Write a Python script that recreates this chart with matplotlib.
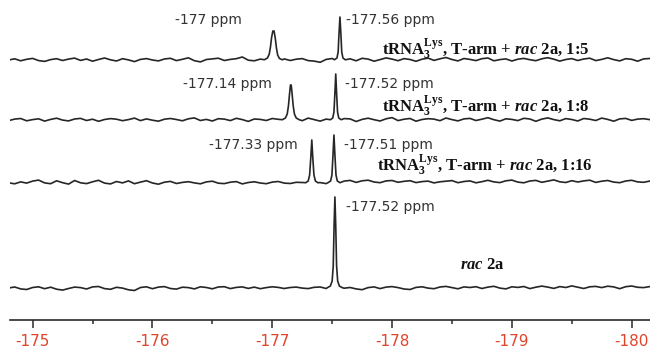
"""19F NMR spectra stacked plot (tRNA T-arm titration with rac 2a)."""

import matplotlib
matplotlib.use('Agg')
import matplotlib.pyplot as plt
import numpy as np

plt.rcParams['axes.unicode_minus'] = False
plt.rcParams['mathtext.fontset'] = 'custom'
plt.rcParams['mathtext.rm'] = 'Liberation Serif:bold'
plt.rcParams['mathtext.bf'] = 'Liberation Serif:bold'
plt.rcParams['mathtext.it'] = 'Liberation Serif:italic:bold'

# Eje de desplazamiento quimico (ppm) para la linea base
ppm_grid = -174.80 - 0.05 * np.arange(108)

# Ruido de linea base (unidades de intensidad arbitrarias)
noise_15 = [
    0.0, 1.2, -0.8, 0.7, 1.6, -0.6, -1.4, 0.4, 1.3, -0.5, 0.9, 1.9,
    -0.4, 1.0, -1.2, 0.5, 2.0, 0.2, -1.0, 1.3, 0.1, -1.6, 0.6, 1.4,
    0.0, -0.9, 1.0, 1.7, -0.6, 0.7, 2.2, -0.7, -1.9, 0.5, 1.1, 1.8,
    -0.5, 0.6, 1.3, 3.0, -0.2, -0.8, 0.9, 0.0, -0.7, 0.5, 1.1, -0.5,
    0.8, 1.4, -0.6, -1.1, -2.3, 0.6, 1.5, -0.3, 0.5, 1.2, -0.8, 1.7,
    0.9, -1.2, 0.4, 2.1, 0.9, -0.7, 1.4, 0.5, -1.3, 0.8, 1.9, -0.4,
    1.2, 2.5, 0.5, -0.9, 1.5, 0.6, -0.6, 1.3, 2.0, -0.8, 0.4, 1.1,
    -1.0, 0.8, 1.6, 0.3, -0.7, 1.2, 2.3, 0.8, -1.1, 0.5, 1.4, -0.5,
    1.0, 1.8, -0.6, 0.6, 2.2, 0.4, -0.9, 1.3, 0.7, -1.2, 1.1, 1.5,
]
noise_18 = [
    -0.6, 0.9, 1.5, -0.8, 0.4, 1.2, -1.1, 0.6, 1.8, -0.1, -0.9, 1.0,
    1.6, -0.5, 0.8, -1.3, 0.5, 1.4, 0.8, -0.7, 0.4, 1.9, -0.6, 1.1,
    -0.2, -1.2, 0.8, 1.5, 0.5, -0.8, 1.2, 2.1, -0.5, 0.6, -1.0, 1.3,
    0.9, -0.6, 1.7, 0.4, -1.4, 1.0, 0.6, -0.5, 1.5, 0.7, -0.9, 0.5,
    1.2, -0.7, 1.9, 0.4, -1.1, 0.9, 0.5, -0.8, 1.4, 1.1, -1.5, 0.6,
    1.8, 0.3, -1.0, 1.2, 2.4, -0.6, 0.8, 1.5, -1.2, 0.5, 1.3, 0.9,
    -0.7, 2.0, 0.4, -0.9, 1.1, 1.6, -0.5, 0.8, 2.3, 0.3, -1.1, 1.2,
    0.6, -0.6, 1.7, 1.0, -1.3, 0.9, 2.1, 0.4, -0.8, 1.4, 0.5, -1.0,
    1.5, 0.8, -0.5, 1.9, 0.6, -1.2, 1.1, 1.6, -0.4, 0.9, 1.3, 0.4,
]
noise_116 = [
    0.2, -0.8, 1.1, -0.1, 1.9, 2.9, 0.1, -0.7, 2.2, 0.3, -1.1, 2.5,
    0.2, -0.6, 1.2, 2.7, -0.1, -0.9, 1.5, 0.1, 2.1, -0.7, 0.9, 2.3,
    0.0, -1.2, 0.8, 1.6, -0.5, 0.6, 1.3, 0.1, -0.8, 1.1, 1.8, -0.2,
    -0.6, 0.8, 1.4, -0.9, 0.5, 1.2, 0.0, -0.7, 0.9, 1.5, -0.1, -0.5,
    0.7, 0.5, -0.9, 1.1, 0.4, -0.6, 1.3, 0.6, 1.9, 2.6, 0.6, 2.2,
    2.8, 1.0, 0.3, 2.1, 2.5, 0.7, 1.7, 2.3, 0.4, 1.4, 1.9, 0.1,
    1.2, 1.8, 2.4, 0.3, 1.5, 2.1, 0.2, 1.3, 2.7, 1.1, 0.4, 2.2,
    2.9, 0.9, 0.2, 2.0, 2.6, 0.7, 1.9, 3.1, 1.2, 0.5, 2.3, 1.0,
    2.1, 2.8, 0.6, 1.8, 2.5, 0.9, 0.3, 2.0, 2.7, 1.1, 0.7, 1.9,
]
noise_rac = [
    0.0, 1.0, -0.9, -1.5, 0.5, 1.2, -0.7, 0.8, -1.2, -2.1, -0.5, 0.9,
    0.4, -1.0, 1.1, 1.5, -0.6, -1.3, 0.7, -0.1, -1.8, -2.5, 0.5, 1.2,
    -0.7, 0.9, 1.4, -0.5, -1.1, 0.8, 0.4, -0.9, 1.2, 0.5, -0.8, 1.0,
    1.3, -0.6, 0.6, 1.1, -0.4, 0.9, -0.7, 0.4, 1.2, 0.6, -0.5, 0.5,
    0.9, -0.1, -0.6, 0.7, 1.0, -0.5, 0.3, 0.8, -0.2, 0.5, -0.9, -1.7,
    0.4, 1.1, -0.6, 0.9, 1.4, 0.4, -1.0, -1.5, 0.6, 1.2, -0.1, -0.7,
    1.0, 1.6, 0.4, -0.8, 1.1, 0.5, 1.3, -0.5, 0.9, 1.7, -0.1, -0.9,
    1.2, 0.6, 1.5, -0.6, 0.8, 1.9, 0.9, -0.4, 1.4, 0.5, 2.1, 0.8,
    -0.5, 1.2, 1.6, 0.4, 1.8, 1.1, -0.7, 1.3, 2.0, 0.7, 0.4, 1.4,
]

# Picos: (ppm, intensidad)
peaks_15 = [
    ([-176.935, -176.96, -176.975, -176.985, -176.995, -177.005, -177.015,
      -177.025, -177.035, -177.045, -177.06, -177.085],
     [0.3, 2, 6, 13, 23, 29, 29, 22, 12, 5, 1.5, 0.2]),
    ([-177.52, -177.54, -177.55, -177.557, -177.565, -177.573, -177.58,
      -177.59, -177.61],
     [0.3, 2, 8, 26, 43, 26, 8, 2, 0.2]),
]
peaks_18 = [
    ([-177.085, -177.11, -177.125, -177.135, -177.145, -177.152, -177.158,
      -177.165, -177.175, -177.185, -177.2, -177.225],
     [0.3, 2, 6, 14, 27, 35, 35, 27, 14, 6, 2, 0.3]),
    ([-177.485, -177.505, -177.515, -177.523, -177.53, -177.537, -177.545,
      -177.555, -177.575],
     [0.3, 2, 8, 27, 46, 27, 8, 2, 0.3]),
]
peaks_116 = [
    ([-177.28, -177.3, -177.312, -177.322, -177.33, -177.338, -177.348,
      -177.36, -177.38],
     [0.3, 2, 8, 26, 43, 26, 8, 2, 0.3]),
    ([-177.465, -177.487, -177.498, -177.507, -177.515, -177.523, -177.532,
      -177.543, -177.565],
     [0.3, 2, 8, 28, 48, 28, 8, 2, 0.3]),
]
peaks_rac = [
    ([-177.46, -177.485, -177.5, -177.509, -177.516, -177.523, -177.53,
      -177.537, -177.546, -177.56, -177.585],
     [0.3, 2, 7, 22, 62, 91, 62, 22, 7, 2, 0.3]),
]

x_ticks = [-175, -176, -177, -178, -179, -180]
x_tick_labels = ['-175', '-176', '-177', '-178', '-179', '-180']

# Desplazamiento vertical de cada espectro
offsets = [260, 200, 137, 32]


def build_trace(noise, peaks):
    """Une la linea base con los puntos de los picos."""
    x = ppm_grid
    keep = np.ones(len(x), dtype=bool)
    for px, _ in peaks:
        keep &= ~((x <= max(px)) & (x >= min(px)))
    xs = np.concatenate([x[keep]] + [np.array(p[0]) for p in peaks])
    ys = np.concatenate([np.array(noise)[keep]] + [np.array(p[1]) for p in peaks])
    order = np.argsort(xs)
    return xs[order], ys[order]


fig = plt.figure(figsize=(6.5, 3.48), dpi=100)
ax = fig.add_axes([10 / 650, 28 / 348, 640 / 650, 320 / 348])
ax.set_xlim(-174.811, -180.153)
ax.set_ylim(0, 320)

traces = [(noise_15, peaks_15), (noise_18, peaks_18),
          (noise_116, peaks_116), (noise_rac, peaks_rac)]
for (noise, peaks), off in zip(traces, offsets):
    xs, ys = build_trace(noise, peaks)
    ax.plot(xs, ys + off, color='#262626', lw=1.2)

# Etiquetas de los picos
ppm_color = '#333333'
ppm_kw = dict(fontsize=10, color=ppm_color, va='center')
ax.text(-176.747, 300, '-177 ppm', ha='right', **ppm_kw)
ax.text(-177.615, 300, '-177.56 ppm', ha='left', **ppm_kw)
ax.text(-176.998, 236, '-177.14 ppm', ha='right', **ppm_kw)
ax.text(-177.607, 236, '-177.52 ppm', ha='left', **ppm_kw)
ax.text(-177.215, 175, '-177.33 ppm', ha='right', **ppm_kw)
ax.text(-177.598, 175, '-177.51 ppm', ha='left', **ppm_kw)
ax.text(-177.615, 113, '-177.52 ppm', ha='left', **ppm_kw)

# Etiquetas de cada muestra
lbl_kw = dict(fontsize=12, family='Liberation Serif', fontweight='bold',
              color='#111111', ha='left', va='center')
base = r'$\mathrm{tRNA}^{\mathrm{Lys}}_{3}$, T-arm + $\mathit{rac}$ 2a, '
ax.text(-177.92, 271, base + '1:5', **lbl_kw)
ax.text(-177.916, 214, base + '1:8', **lbl_kw)
ax.text(-177.874, 155, base + '1:16', **lbl_kw)
ax.text(-178.567, 55, r'$\mathit{rac}$ 2a', **lbl_kw)

# Eje x
for side in ['top', 'left', 'right']:
    ax.spines[side].set_visible(False)
ax.spines['bottom'].set_linewidth(1.2)
ax.spines['bottom'].set_color('#2a2a2a')
ax.set_yticks([])
ax.set_xticks(x_ticks)
ax.set_xticklabels(x_tick_labels)
ax.set_xticks(np.arange(-175.5, -180, -1.0), minor=True)
ax.tick_params(axis='x', which='major', length=6, width=1.1, color='#2a2a2a',
               direction='out', pad=4, labelsize=11, labelcolor='#e0452c')
ax.tick_params(axis='x', which='minor', length=3, width=1.1, color='#2a2a2a',
               direction='out')

fig.savefig('out.png', dpi=100)
